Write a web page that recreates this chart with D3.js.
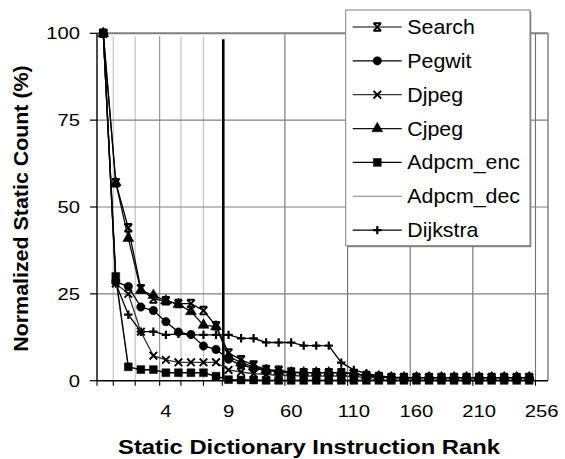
<!DOCTYPE html>
<html>
<head>
<meta charset="utf-8">
<script src="https://cdn.jsdelivr.net/npm/d3@7"></script>
<style>
  html, body { margin: 0; padding: 0; background: #fff; }
  svg { display: block; }
  text { font-family: Arial, "Liberation Sans", Helvetica, sans-serif; fill: #000; }
</style>
</head>
<body>
<svg id="chart" width="565" height="459"></svg>
<script>
// Category axis: rank 0..9 individually, then every 10 ranks up to 256
const categories = ["", "0", "1", "2", "3", "4", "5", "6", "7", "8", "9",
  "20", "30", "40", "50", "60", "70", "80", "90", "100", "110", "120", "130",
  "140", "150", "160", "170", "180", "190", "200", "210", "220", "230", "240", "250", "256"];
const tickLabels = ["4", "9", "60", "110", "160", "210", "256"];
const yTicks = [0, 25, 50, 75, 100];

const searchVals   = [100, 57, 44, 26.5, 23.5, 23, 22.2, 22.2, 20.2, 15.8, 8, 6, 4.5, 3.2, 3, 2.5, 2.3, 2.3, 2.3, 2.3, 2, 1.5, 1.2, 0.9, 0.9, 0.9, 0.9, 0.9, 0.9, 0.9, 0.9, 0.9, 0.9, 0.9, 0.9];
const pegwitVals   = [100, 28.5, 27.1, 21.2, 20.2, 17, 14, 13.3, 10, 9, 6.2, 4.5, 3.6, 2.9, 2.6, 2.3, 2.3, 2.3, 2.3, 2.3, 2, 1.5, 1.2, 0.9, 0.9, 0.9, 0.9, 0.9, 0.9, 0.9, 0.9, 0.9, 0.9, 0.9, 0.9];
const djpegVals    = [100, 28, 25, 14.1, 7.2, 6, 5.3, 5.3, 5.3, 5.3, 3.1, 2.5, 2, 1.8, 1.5, 1.5, 1.3, 1.3, 1.3, 1.3, 1.2, 1, 0.9, 0.9, 0.9, 0.9, 0.9, 0.9, 0.9, 0.9, 0.9, 0.9, 0.9, 0.9, 0.9];
const cjpegVals    = [100, 57, 41, 26, 24.6, 23, 22, 19.9, 16, 15.6, 7, 5.2, 4, 3, 2.6, 2.3, 2.3, 2.3, 2.3, 2.3, 2, 1.5, 1.2, 0.9, 0.9, 0.9, 0.9, 0.9, 0.9, 0.9, 0.9, 0.9, 0.9, 0.9, 0.9];
const adpcmEncVals = [100, 30, 4, 3.2, 3.2, 2.3, 2.3, 2.3, 2.3, 1.3, 0.3, 0.2, 0.2, 0.1, 0.1, 0.1, 0.1, 0.1, 0.1, 0.1, 0.1, 0.1, 0.1, 0.1, 0.1, 0.1, 0.1, 0.1, 0.1, 0.1, 0.1, 0.1, 0.1, 0.1, 0.1];
const adpcmDecVals = [100, 29, 4, 3, 3, 2.2, 2.2, 2.2, 2.2, 1.2, 0.2, 0.1, 0.1, 0.1, 0.1, 0.1, 0.1, 0.1, 0.1, 0.1, 0.1, 0.1, 0.1, 0.1, 0.1, 0.1, 0.1, 0.1, 0.1, 0.1, 0.1, 0.1, 0.1, 0.1, 0.1];
const dijkstraVals = [100, 28, 19, 14.1, 14.1, 13.2, 13.5, 13.2, 13.2, 13.2, 13.2, 12.2, 12.2, 11, 11, 11, 10.1, 10.1, 10.1, 5.2, 3.1, 2.1, 1.4, 1, 0.9, 0.9, 0.9, 0.9, 0.9, 0.9, 0.9, 0.9, 0.9, 0.9, 0.9];

const seriesNames = ["Search", "Pegwit", "Djpeg", "Cjpeg", "Adpcm_enc", "Adpcm_dec", "Dijkstra"];
const seriesValues = [searchVals, pegwitVals, djpegVals, cjpegVals, adpcmEncVals, adpcmDecVals, dijkstraVals];
const seriesMarkers = ["star", "circle", "x", "triangle", "square", "none", "plus"];
const seriesColors = ["#000", "#000", "#333", "#111", "#000", "#808080", "#000"];

const svg = d3.select("#chart");
const plot = { left: 97, right: 548, top: 33.3, bottom: 380.7 };
const TEXT_STRETCH = 1.19;

const x = d3.scaleBand().domain(categories).range([plot.left, plot.right]).padding(0);
const y = d3.scaleLinear().domain([0, 100]).range([plot.bottom, plot.top]);
const bw = x.bandwidth();
const boundary = i => plot.left + i * bw;   // edge between category i-1 and i

// light guide lines in the 0..9 region, and the main gridlines every 5 categories
const lightGuides = [1.3, 3.05, 6.7, 8.5];
const mainGuides = [5, 15, 20, 25, 30, 35];

const grid = svg.append("g");
lightGuides.forEach(u => {
  grid.append("line").attr("x1", boundary(u)).attr("x2", boundary(u))
    .attr("y1", plot.top + 3).attr("y2", plot.bottom)
    .attr("stroke", "#c4c4c4").attr("stroke-width", 1.2);
});
mainGuides.forEach(u => {
  grid.append("line").attr("x1", boundary(u)).attr("x2", boundary(u))
    .attr("y1", u === 5 ? plot.top + 3 : plot.top).attr("y2", plot.bottom)
    .attr("stroke", u === 5 ? "#909090" : "#707070").attr("stroke-width", 1.1);
});
[25, 50, 75].forEach(v => {
  grid.append("line").attr("x1", plot.left).attr("x2", plot.right)
    .attr("y1", y(v)).attr("y2", y(v))
    .attr("stroke", "#808080").attr("stroke-width", 1.1);
});
// top and right frame of the plot area
grid.append("line").attr("x1", plot.left).attr("x2", plot.right)
  .attr("y1", y(100)).attr("y2", y(100)).attr("stroke", "#808080").attr("stroke-width", 2);
grid.append("line").attr("x1", plot.right).attr("x2", plot.right)
  .attr("y1", y(100)).attr("y2", plot.bottom).attr("stroke", "#808080").attr("stroke-width", 1.5);

// separator between single ranks and grouped ranks
grid.append("line").attr("x1", boundary(10) + 1).attr("x2", boundary(10) + 1)
  .attr("y1", plot.top + 6).attr("y2", plot.bottom)
  .attr("stroke", "#000").attr("stroke-width", 2.6);

// markers
function markerPath(type) {
  const s = 3.8;
  switch (type) {
    case "square": return d3.symbol(d3.symbolSquare, 62)();
    case "circle": return d3.symbol(d3.symbolCircle, 56)();
    case "triangle": return d3.symbol(d3.symbolTriangle, 52)();
    case "x": return `M${-s},${-s}L${s},${s}M${-s},${s}L${s},${-s}`;
    case "star": return `M${-s},${-s}L${s},${s}M${-s},${s}L${s},${-s}M${-s},${-s}L${s},${-s}M${-s},${s}L${s},${s}`;
    case "plus": return `M${-4.2},0L${4.2},0M0,${-4.2}L0,${4.2}`;
  }
  return "";
}
const filled = t => t === "square" || t === "circle" || t === "triangle";

function drawMarker(g, type, color) {
  if (type === "none") return;
  g.append("path").attr("d", markerPath(type))
    .attr("fill", filled(type) ? color : "none")
    .attr("stroke", color)
    .attr("stroke-width", filled(type) ? 0.5 : (type === "plus" ? 2.2 : 1.9));
}

const line = d3.line().x((d, i) => x(categories[i]) + bw / 2).y(d => y(d));
const series = svg.append("g");
// draw from last to first so Search sits on top
for (let k = seriesValues.length - 1; k >= 0; k--) {
  const vals = seriesValues[k];
  series.append("path").datum(vals).attr("d", line)
    .attr("fill", "none").attr("stroke", seriesColors[k]).attr("stroke-width", 1.3);
  vals.forEach((v, i) => {
    const g = series.append("g").attr("transform", `translate(${x(categories[i]) + bw / 2},${y(v)})`);
    drawMarker(g, seriesMarkers[k], "#000");
  });
}

// axes
const axes = svg.append("g");
axes.append("line").attr("x1", plot.left).attr("x2", plot.left)
  .attr("y1", y(100)).attr("y2", plot.bottom).attr("stroke", "#000").attr("stroke-width", 1.4);
axes.append("line").attr("x1", plot.left).attr("x2", plot.right)
  .attr("y1", plot.bottom).attr("y2", plot.bottom).attr("stroke", "#000").attr("stroke-width", 1.6);

yTicks.forEach(v => {
  axes.append("line").attr("x1", plot.left - 7).attr("x2", plot.left)
    .attr("y1", y(v)).attr("y2", y(v)).attr("stroke", "#000").attr("stroke-width", 1.2);
  axes.append("text").attr("transform", `translate(80,${y(v) + 6}) scale(${TEXT_STRETCH},1)`)
    .attr("text-anchor", "end").attr("font-size", 17).text(v);
});

[0].concat(lightGuides, [5, 10], mainGuides.slice(1)).forEach(u => {
  axes.append("line").attr("x1", boundary(u)).attr("x2", boundary(u))
    .attr("y1", plot.bottom).attr("y2", plot.bottom + 5).attr("stroke", "#000").attr("stroke-width", 1.1);
});
tickLabels.forEach(c => {
  axes.append("text").attr("transform", `translate(${x(c) + bw / 2},417.3) scale(${TEXT_STRETCH},1)`)
    .attr("text-anchor", "middle").attr("font-size", 17).text(c);
});

// axis titles
svg.append("text")
  .attr("transform", `translate(309,454) scale(${TEXT_STRETCH},1)`)
  .attr("text-anchor", "middle").attr("font-size", 20).attr("font-weight", "bold")
  .text("Static Dictionary Instruction Rank");
svg.append("text")
  .attr("transform", "translate(27.5,208.5) rotate(-90) scale(1.07,1)")
  .attr("text-anchor", "middle").attr("font-size", 20).attr("font-weight", "bold")
  .text("Normalized Static Count (%)");

// legend
const legend = svg.append("g");
legend.append("rect").attr("x", 347).attr("y", 11.5).attr("width", 184.3).attr("height", 235.7)
  .attr("fill", "#808080");
legend.append("rect").attr("x", 345.7).attr("y", 10).attr("width", 184.3).attr("height", 235.7)
  .attr("fill", "#fff").attr("stroke", "#808080").attr("stroke-width", 1);
seriesNames.forEach((name, k) => {
  const cy = 27 + k * 33.85;
  legend.append("line").attr("x1", 352.7).attr("x2", 401.7).attr("y1", cy).attr("y2", cy)
    .attr("stroke", seriesColors[k]).attr("stroke-width", 1.2);
  const g = legend.append("g").attr("transform", `translate(377.3,${cy})`);
  drawMarker(g, seriesMarkers[k], "#000");
  legend.append("text").attr("transform", `translate(407.3,${cy + 7}) scale(1.067,1)`)
    .attr("font-size", 20).text(name);
});
</script>
</body>
</html>
